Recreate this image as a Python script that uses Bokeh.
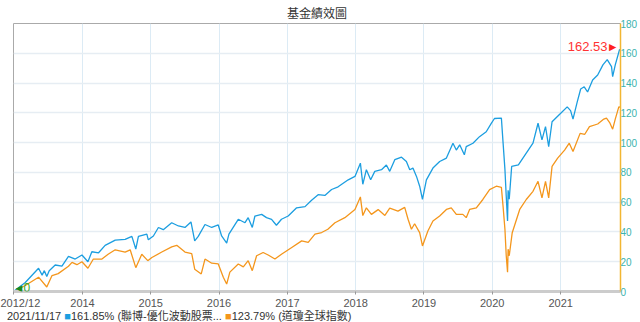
import pandas as pd
from bokeh.plotting import figure
from bokeh.layouts import column
from bokeh.models import Range1d, FixedTicker, Label, Div
from bokeh.embed import file_html
from bokeh.resources import INLINE

FONT = "'Liberation Sans', 'Noto Sans CJK TC', sans-serif"

title_text = "基金績效圖"
last_date_text = "2021/11/17"
fund_label = "161.85% (聯博-優化波動股票..."
index_label = "123.79% (道瓊全球指數)"
start_label = "0"
max_label = "162.53"

blue_dates = [
    "2012-12-28", "2013-03-01", "2013-05-11", "2013-05-30", "2013-06-11", "2013-06-24",
    "2013-07-07", "2013-08-08", "2013-09-13", "2013-10-18", "2013-11-23", "2013-12-29",
    "2014-01-30", "2014-02-20", "2014-03-28", "2014-05-02", "2014-06-25", "2014-08-17",
    "2014-09-22", "2014-10-13", "2014-10-27", "2014-12-11", "2014-12-19", "2015-01-15",
    "2015-02-11", "2015-03-09", "2015-04-23", "2015-05-29", "2015-07-03", "2015-08-04",
    "2015-08-24", "2015-09-12", "2015-10-18", "2015-11-23", "2015-12-28", "2016-01-15",
    "2016-02-11", "2016-02-23", "2016-04-13", "2016-05-19", "2016-06-05", "2016-06-27",
    "2016-07-11", "2016-08-16", "2016-09-11", "2016-10-08", "2016-11-03", "2016-11-30",
    "2017-01-05", "2017-02-19", "2017-04-05", "2017-05-10", "2017-06-14", "2017-07-20",
    "2017-08-25", "2017-09-29", "2017-11-22", "2017-12-28", "2018-01-26", "2018-02-08",
    "2018-02-27", "2018-03-22", "2018-04-13", "2018-05-19", "2018-06-14", "2018-07-02",
    "2018-07-29", "2018-09-03", "2018-09-29", "2018-10-17", "2018-11-03", "2018-11-22",
    "2018-12-09", "2018-12-24", "2019-01-14", "2019-02-18", "2019-03-26", "2019-05-01",
    "2019-06-05", "2019-06-23", "2019-07-11", "2019-08-05", "2019-08-15", "2019-09-20",
    "2019-10-25", "2019-11-30", "2019-12-27", "2020-01-13", "2020-02-19", "2020-02-28",
    "2020-03-09", "2020-03-16", "2020-03-23", "2020-03-26", "2020-04-01", "2020-04-14",
    "2020-05-20", "2020-07-01", "2020-08-06", "2020-09-02", "2020-09-23", "2020-10-12",
    "2020-10-29", "2020-11-16", "2020-12-31", "2021-02-05", "2021-02-23", "2021-03-08",
    "2021-03-30", "2021-04-18", "2021-05-07", "2021-05-25", "2021-06-21", "2021-07-18",
    "2021-08-15", "2021-09-07", "2021-09-30", "2021-10-06", "2021-10-20", "2021-11-12",
    "2021-11-17",
]
blue_values = [
    0, 6, 15.6, 11, 14, 10,
    14, 17.8, 17, 23.6, 21.8, 24.5,
    20, 26.7, 26, 31, 34.5, 35,
    37, 28.5, 37, 38.5, 34.7, 37.3,
    43, 41.5, 46.2, 44, 43, 46.7,
    34, 37, 45, 43, 44.7, 37.3,
    32.5, 38.5, 48.5, 46.2, 49.6, 43,
    50.7, 51.8, 49.6, 48.5, 44.5, 48.5,
    50.7, 56.2, 57, 61.3, 65, 64.5,
    68.5, 70.3, 75, 77.3, 86.2, 72,
    81.8, 75, 80.7, 81.8, 85, 80.7,
    88.5, 90.2, 87.3, 81.8, 82.9, 77.3,
    70.7, 61.8, 75, 82.9, 87.3, 89.6,
    99.6, 95, 98.5, 91.8, 97.3, 99.6,
    104, 107.3, 112.9, 116.2, 116.5, 100,
    82, 64, 47.3, 68, 62, 84,
    85, 92.9, 99.6, 113, 101.8, 110.7,
    97.3, 114, 119.6, 124, 121.5, 115.8,
    127, 136, 137.5, 134, 142, 145.4,
    152.2, 155.7, 151, 144.3, 152.2, 162.53,
    161.85,
]

orange_dates = [
    "2012-12-28", "2013-03-01", "2013-05-11", "2013-06-24", "2013-07-22", "2013-08-24",
    "2013-10-18", "2013-11-06", "2013-12-02", "2013-12-29", "2014-01-30", "2014-02-28",
    "2014-04-15", "2014-05-18", "2014-06-25", "2014-08-17", "2014-09-13", "2014-10-13",
    "2014-11-14", "2014-12-16", "2015-01-07", "2015-03-01", "2015-04-23", "2015-05-20",
    "2015-07-03", "2015-08-08", "2015-08-24", "2015-09-28", "2015-10-18", "2015-11-23",
    "2015-12-28", "2016-01-24", "2016-02-11", "2016-02-28", "2016-04-13", "2016-05-10",
    "2016-06-05", "2016-06-27", "2016-07-20", "2016-08-24", "2016-09-20", "2016-10-26",
    "2016-11-30", "2017-01-24", "2017-03-18", "2017-04-22", "2017-05-28", "2017-07-03",
    "2017-08-05", "2017-09-12", "2017-11-04", "2017-12-28", "2018-01-26", "2018-02-08",
    "2018-02-27", "2018-03-26", "2018-05-01", "2018-06-06", "2018-07-02", "2018-08-15",
    "2018-09-20", "2018-10-08", "2018-10-26", "2018-11-12", "2018-12-09", "2018-12-24",
    "2019-01-22", "2019-02-18", "2019-03-26", "2019-05-01", "2019-05-27", "2019-06-23",
    "2019-07-28", "2019-08-15", "2019-09-02", "2019-10-08", "2019-11-12", "2019-12-18",
    "2020-01-23", "2020-02-19", "2020-02-28", "2020-03-09", "2020-03-16", "2020-03-23",
    "2020-03-26", "2020-04-01", "2020-04-17", "2020-05-27", "2020-07-01", "2020-08-06",
    "2020-09-02", "2020-09-23", "2020-10-12", "2020-10-29", "2020-11-16", "2020-12-16",
    "2021-01-22", "2021-02-16", "2021-03-08", "2021-04-15", "2021-05-10", "2021-06-04",
    "2021-07-18", "2021-08-20", "2021-09-03", "2021-09-20", "2021-10-06", "2021-10-20",
    "2021-11-08", "2021-11-17",
]
orange_values = [
    0, 4, 9.6, 3, 10.7, 12,
    17, 19.6, 18, 20, 15.6, 21.8,
    21.8, 25, 28, 26.5, 28, 16,
    25, 20.7, 22.8, 26.5, 30, 31,
    26.5, 25.5, 15, 11.8, 21.8, 19,
    18.5, 9.6, 5, 13, 18.5, 16.5,
    20.7, 14, 24, 26.2, 24.5, 21.8,
    25, 29.6, 34, 33, 38.5, 39.6,
    41.8, 46.2, 49.6, 55, 63.5, 51,
    56.2, 51.8, 55, 51.1, 56, 54,
    56.5, 48.5, 41.8, 45.5, 39.5, 30.6,
    40.6, 47.3, 50.7, 55.1, 56.2, 51.8,
    51.8, 49.6, 55.1, 56.2, 61.8, 68.4,
    70.7, 70, 57.3, 41.8, 24, 12.9,
    28.4, 24, 39.5, 55.1, 61.8, 67.3,
    74, 62.9, 74, 62.9, 84, 89.6,
    95, 99.6, 94, 106.2, 105.6, 110.7,
    112.5, 115.8, 116.5, 113.5, 109, 115.8,
    124, 123.79,
]

x_start = "2012-12-28"
x_end = "2021-11-17"
tick_dates = ["2012-12-28", "2014-01-01", "2015-01-01", "2016-01-01", "2017-01-01",
              "2018-01-01", "2019-01-01", "2020-01-01", "2021-01-01"]
tick_labels = ["2012/12", "2014", "2015", "2016", "2017", "2018", "2019", "2020", "2021"]
y_ticks = [0, 20, 40, 60, 80, 100, 120, 140, 160, 180]
max_date = "2021-11-12"
max_value = 162.53

BLUE = "#1c9ee0"
ORANGE = "#f4961c"


def ms(d):
    return pd.Timestamp(d).value / 1e6


bx = pd.to_datetime(blue_dates)
ox = pd.to_datetime(orange_dates)

p = figure(width=640, height=311, x_axis_type="datetime", y_axis_location="right",
           x_range=Range1d(start=ms(x_start), end=ms(x_end)),
           y_range=Range1d(start=0, end=180),
           output_backend="svg", toolbar_location=None,
           min_border_left=13, min_border_right=19, min_border_top=23, min_border_bottom=18)

p.background_fill_color = "white"
p.border_fill_color = "white"
p.outline_line_color = "#aaaaaa"
p.outline_line_width = 1

p.title.text = title_text
p.title.align = "center"
p.title.offset = 7
p.title.standoff = 5
p.title.text_font = FONT
p.title.text_font_size = "12px"
p.title.text_font_style = "normal"
p.title.text_color = "#333333"

tick_ms = [ms(d) for d in tick_dates]
p.xaxis.ticker = FixedTicker(ticks=tick_ms)
p.xaxis.major_label_overrides = {t: lab for t, lab in zip(tick_ms, tick_labels)}
p.xaxis.axis_line_color = "#cccccc"
p.xaxis.axis_line_width = 3
p.xaxis.major_tick_line_color = "#999999"
p.xaxis.major_tick_in = 0
p.xaxis.major_tick_out = 3
p.xaxis.minor_tick_line_color = None
p.xaxis.major_label_text_font = FONT
p.xaxis.major_label_text_font_size = "11px"
p.xaxis.major_label_text_color = "#555555"
p.xaxis.major_label_standoff = 2

p.yaxis.ticker = FixedTicker(ticks=y_ticks)
p.yaxis.axis_line_color = "#f2b632"
p.yaxis.axis_line_width = 1.5
p.yaxis.major_tick_line_color = None
p.yaxis.major_tick_out = 0
p.yaxis.major_tick_in = 0
p.yaxis.minor_tick_line_color = None
p.yaxis.minor_tick_out = 0
p.yaxis.major_label_text_font = FONT
p.yaxis.major_label_text_font_size = "10px"
p.yaxis.major_label_text_color = "#3ab3ad"
p.yaxis.major_label_standoff = 0

p.xgrid.grid_line_color = "#dcebf5"
p.xgrid.grid_line_width = 1
p.ygrid.grid_line_color = "#e6edf3"
p.ygrid.grid_line_width = 1.5

p.line(ox, orange_values, line_color=ORANGE, line_width=1.3)
p.line(bx, blue_values, line_color=BLUE, line_width=1.3)

# start marker
p.add_layout(Label(x=ms(x_start), y=0, text="◄", x_offset=0, y_offset=4,
                   text_baseline="middle", text_font=FONT, text_font_size="11px",
                   text_color="#1a8a1a"))
p.add_layout(Label(x=ms(x_start), y=0, text=start_label, x_offset=10, y_offset=4,
                   text_baseline="middle", text_font=FONT, text_font_size="12px",
                   text_color="#33aa33"))

# max marker
p.add_layout(Label(x=ms(max_date), y=max_value, text="►", x_offset=-1, y_offset=3,
                   text_align="right", text_baseline="middle",
                   text_font=FONT, text_font_size="12px", text_color="#ff2020"))
p.add_layout(Label(x=ms(max_date), y=max_value, text=max_label, x_offset=-12,
                   y_offset=3, text_align="right", text_baseline="middle",
                   text_font=FONT, text_font_size="13px", text_color="#ff3333"))

legend_html = (
    f"{last_date_text} <span style='color:{BLUE}'>■</span>{fund_label} "
    f"<span style='color:{ORANGE}'>■</span>{index_label}"
)
legend_div = Div(text=legend_html, width=640, height=11, margin=0,
                 styles={"font-family": FONT, "font-size": "11px", "color": "#333333",
                         "line-height": "11px", "white-space": "nowrap",
                         "padding-left": "7px"})

layout = column(p, legend_div, spacing=0)
open("out.html", "w").write(file_html(layout, INLINE))
